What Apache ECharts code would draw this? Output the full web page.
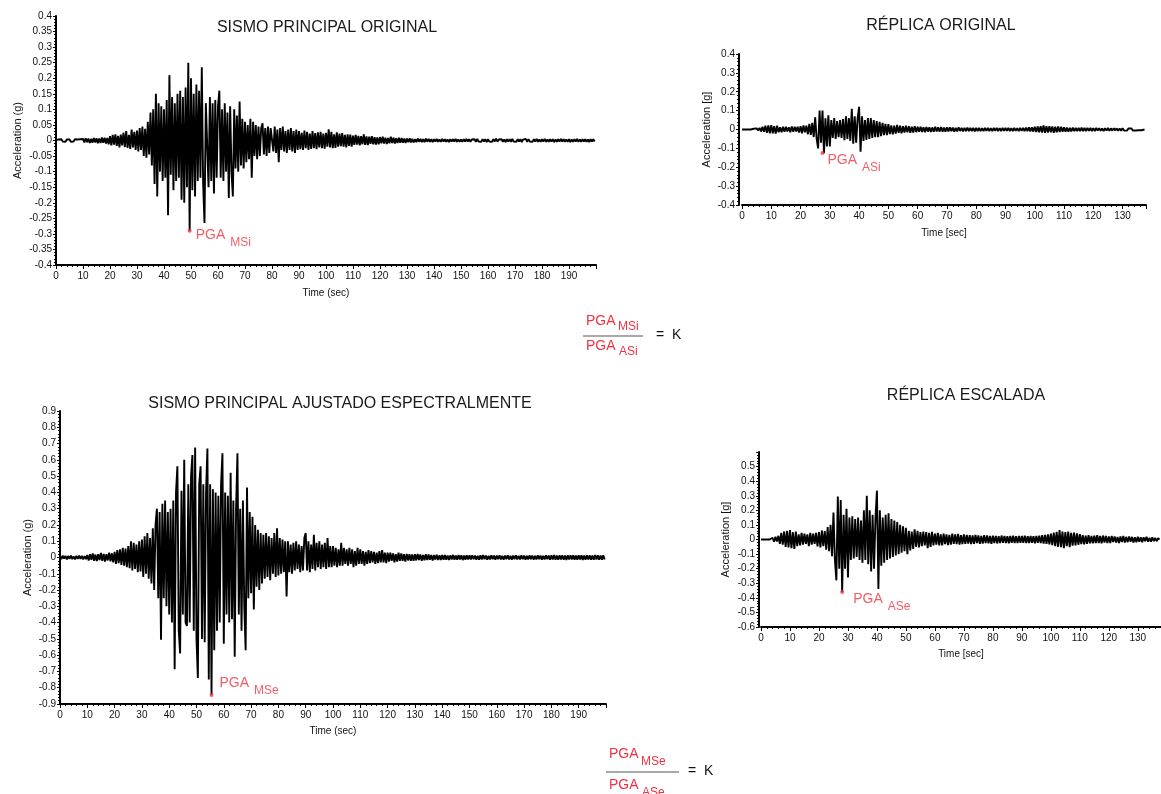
<!DOCTYPE html>
<html>
<head>
<meta charset="UTF-8">
<script src="https://cdn.jsdelivr.net/npm/echarts@6/dist/echarts.min.js"></script>
<style>
html,body{margin:0;padding:0;background:#fff;}
#main{width:1161px;height:794px;}
</style>
</head>
<body>
<div id="main"></div>
<script>
// sample step of the hand-read records (seconds)
var dt = 0.5;

// Sismo principal original, t = 0 .. 199.5 s, one row = 10 s
var mainOriginal = [
 0.002,-0.003,0.003,-0.002,0.004,-0.003,0.002,-0.004,0.003,-0.002,0.003,-0.004,0.002,-0.003,0.004,-0.002,0.003,-0.003,0.004,-0.002,
 0.005,-0.006,0.007,-0.005,0.006,-0.008,0.005,-0.007,0.008,-0.006,0.007,-0.009,0.006,-0.008,0.01,-0.007,0.009,-0.01,0.008,-0.012,
 0.014,-0.016,0.018,-0.013,0.02,-0.017,0.015,-0.022,0.019,-0.016,0.025,-0.021,0.03,-0.024,0.018,-0.027,0.035,-0.022,0.028,-0.03,
 0.032,-0.035,0.04,-0.03,0.045,-0.05,0.038,-0.055,0.06,-0.045,0.09,-0.08,0.1,-0.14,0.15,-0.18,0.12,-0.1,0.11,-0.13,
 0.1,-0.12,0.13,-0.24,0.21,-0.11,0.14,-0.16,0.12,-0.13,0.15,-0.12,0.16,-0.19,0.14,-0.2,0.17,-0.15,0.25,-0.29,
 0.2,-0.16,0.15,-0.18,0.18,-0.13,0.16,-0.12,0.235,-0.14,-0.265,0.12,0.12,-0.15,0.14,-0.13,0.12,-0.17,0.13,-0.12,
 0.11,0.16,-0.12,0.1,-0.13,0.12,-0.1,0.09,-0.185,0.11,-0.1,-0.18,0.1,-0.09,0.08,-0.1,0.125,-0.08,0.07,-0.09,
 0.06,-0.07,0.05,-0.06,0.07,-0.12,0.06,-0.05,0.05,-0.06,0.045,-0.05,0.04,0.055,-0.045,0.04,-0.05,0.045,-0.04,0.04,
 0.04,-0.035,0.045,-0.04,0.035,-0.07,0.04,-0.03,0.045,-0.035,0.03,-0.04,0.035,-0.03,0.04,-0.035,0.03,-0.04,0.035,-0.03,
 0.03,-0.028,0.025,-0.03,0.032,-0.025,0.028,-0.03,0.022,-0.027,0.03,-0.025,0.024,-0.028,0.026,-0.022,0.028,-0.025,0.022,-0.026,
 0.025,-0.02,0.036,-0.022,0.028,-0.025,0.02,-0.024,0.026,-0.02,0.022,-0.018,0.024,-0.02,0.018,-0.022,0.02,-0.017,0.019,-0.02,
 0.016,-0.014,0.018,-0.013,0.015,-0.016,0.014,-0.012,0.02,-0.014,0.013,-0.015,0.012,-0.011,0.014,-0.012,0.011,-0.013,0.01,-0.012,
 0.011,-0.009,0.012,-0.01,0.009,-0.011,0.008,-0.009,0.012,-0.008,0.009,-0.01,0.007,-0.008,0.009,-0.007,0.008,-0.007,0.006,-0.008,
 0.006,-0.005,0.007,-0.006,0.005,-0.006,0.004,-0.005,0.006,-0.004,0.005,-0.005,0.004,-0.005,0.006,-0.004,0.005,-0.004,0.004,-0.005,
 0.004,-0.003,0.005,-0.004,0.003,-0.004,0.005,-0.003,0.004,-0.004,0.003,-0.005,0.004,-0.003,0.004,-0.003,0.005,-0.004,0.003,-0.004,
 0.003,-0.004,0.004,-0.003,0.005,-0.003,0.004,-0.004,0.003,-0.003,0.004,-0.004,0.005,-0.003,0.003,-0.004,0.004,-0.003,0.004,-0.005,
 0.004,-0.003,0.003,-0.004,0.004,-0.003,0.006,-0.004,0.003,-0.003,0.004,-0.004,0.003,-0.005,0.004,-0.003,0.004,-0.004,0.005,-0.003,
 0.003,-0.004,0.004,-0.003,0.004,-0.005,0.003,-0.003,0.005,-0.004,0.004,-0.003,0.003,-0.004,0.004,-0.003,0.005,-0.004,0.003,-0.004,
 0.004,-0.003,0.005,-0.004,0.003,-0.004,0.004,-0.003,0.004,-0.005,0.003,-0.004,0.004,-0.003,0.005,-0.003,0.004,-0.004,0.003,-0.004,
 0.004,-0.005,0.003,-0.004,0.004,-0.003,0.005,-0.004,0.003,-0.004,0.004,-0.003,0.004,-0.004,0.003,-0.005,0.004,-0.003,0.004,-0.003
];

// Réplica original, t = 0 .. 137.5 s
var replicaOriginal = [
 0,0,0,0,0,0,0,0,0.004,-0.005,0.006,-0.005,0.008,-0.01,0.015,-0.012,0.02,-0.018,0.022,-0.02,
 0.023,-0.02,0.018,-0.022,0.02,-0.015,0.012,-0.014,0.015,-0.012,0.014,-0.01,0.012,-0.015,0.016,-0.012,0.014,-0.01,0.015,-0.016,
 0.018,-0.02,0.022,-0.015,0.02,-0.025,0.03,-0.028,0.035,-0.04,0.065,-0.05,-0.1,0.1,-0.07,0.1,-0.125,0.06,-0.09,0.075,
 -0.09,0.05,-0.045,0.06,-0.05,0.045,-0.04,0.05,-0.045,0.055,-0.056,0.07,-0.05,0.06,-0.06,0.11,-0.075,0.07,-0.07,0.06,
 0.12,-0.118,0.07,-0.06,0.05,-0.055,0.06,-0.05,0.06,-0.045,0.05,-0.04,0.045,-0.04,0.04,-0.035,0.035,-0.03,0.03,-0.03,
 0.028,-0.025,0.022,-0.026,0.02,-0.022,0.024,-0.018,0.02,-0.02,0.018,-0.016,0.02,-0.015,0.017,-0.018,0.015,-0.016,0.018,-0.014,
 0.014,-0.012,0.015,-0.013,0.012,-0.014,0.013,-0.011,0.012,-0.013,0.011,-0.012,0.014,-0.01,0.012,-0.011,0.013,-0.012,0.01,-0.011,
 0.012,-0.01,0.011,-0.009,0.01,-0.011,0.009,-0.01,0.011,-0.008,0.009,-0.01,0.008,-0.009,0.01,-0.008,0.009,-0.009,0.008,-0.01,
 0.009,-0.008,0.008,-0.009,0.007,-0.008,0.009,-0.007,0.008,-0.008,0.007,-0.009,0.008,-0.007,0.009,-0.008,0.007,-0.008,0.008,-0.007,
 0.008,-0.007,0.009,-0.008,0.007,-0.008,0.008,-0.007,0.007,-0.009,0.008,-0.007,0.009,-0.008,0.01,-0.009,0.011,-0.01,0.012,-0.011,
 0.014,-0.013,0.016,-0.015,0.018,-0.016,0.022,-0.017,0.018,-0.016,0.017,-0.015,0.016,-0.017,0.015,-0.014,0.016,-0.013,0.014,-0.012,
 0.012,-0.011,0.01,-0.011,0.009,-0.01,0.01,-0.009,0.008,-0.009,0.009,-0.008,0.01,-0.008,0.008,-0.009,0.009,-0.007,0.008,-0.008,
 0.007,-0.008,0.008,-0.006,0.007,-0.007,0.006,-0.008,0.007,-0.006,0.008,-0.007,0.006,-0.006,0.007,-0.005,0.006,-0.007,0.005,-0.006,
 0.006,-0.005,0.005,-0.006,0.005,-0.004,0.006,-0.005,0.004,-0.005,0.005,-0.004,0.004,-0.004,0.003,0
];

// Sismo principal ajustado espectralmente, t = 0 .. 199.5 s
var mainAdjusted = [
 0.008,-0.01,0.012,-0.007,0.01,-0.012,0.009,-0.008,0.011,-0.01,0.007,-0.012,0.01,-0.008,0.012,-0.009,0.01,-0.011,0.008,-0.01,
 0.015,-0.018,0.02,-0.014,0.025,-0.02,0.018,-0.022,0.02,-0.016,0.028,-0.02,0.022,-0.025,0.02,-0.018,0.03,-0.024,0.026,-0.03,
 0.035,-0.04,0.045,-0.035,0.05,-0.045,0.06,-0.05,0.055,-0.06,0.07,-0.065,0.1,-0.08,0.09,-0.07,0.08,-0.09,0.1,-0.085,
 0.11,-0.12,0.13,-0.1,0.15,-0.13,0.12,-0.16,0.18,-0.2,0.2,0.3,-0.25,0.28,-0.505,0.33,-0.25,0.35,-0.3,0.28,
 -0.35,0.3,-0.4,0.35,-0.686,0.4,0.56,-0.45,-0.59,0.41,-0.35,0.6,-0.4,-0.42,0.45,-0.4,0.5,0.63,-0.45,0.675,
 -0.5,-0.74,0.45,0.56,-0.5,0.45,-0.52,0.4,0.67,-0.75,0.45,-0.845,0.42,-0.57,0.4,-0.45,0.38,-0.4,0.45,0.64,
 -0.53,0.4,-0.35,0.38,-0.4,0.52,-0.38,0.35,-0.61,0.3,0.64,-0.35,0.3,-0.45,0.35,-0.3,-0.57,0.43,-0.25,0.28,
 -0.22,0.25,-0.32,0.2,-0.18,0.17,-0.2,0.15,-0.16,0.14,-0.13,0.15,-0.12,0.13,-0.14,0.12,-0.1,0.15,-0.12,0.18,
 -0.11,0.12,-0.1,0.11,-0.09,0.1,-0.24,0.1,-0.09,0.08,-0.1,0.09,-0.08,0.1,-0.07,0.08,-0.09,0.07,-0.08,0.12,
 0.15,-0.08,0.1,-0.09,0.08,-0.07,0.14,-0.08,0.09,-0.06,0.1,-0.07,0.08,-0.06,0.09,-0.07,0.12,-0.06,0.07,-0.06,
 0.07,-0.05,0.06,-0.06,0.05,-0.05,0.09,-0.05,0.06,-0.04,0.05,-0.05,0.06,-0.04,0.05,-0.06,0.04,-0.05,0.06,-0.04,
 0.05,-0.04,0.04,-0.05,0.035,-0.04,0.045,-0.035,0.04,-0.03,0.035,-0.04,0.03,-0.035,0.04,-0.03,0.045,-0.03,0.03,-0.035,
 0.03,-0.025,0.03,-0.02,0.025,-0.03,0.02,-0.025,0.03,-0.02,0.025,-0.02,0.02,-0.025,0.022,-0.018,0.02,-0.02,0.018,-0.02,
 0.02,-0.018,0.022,-0.015,0.018,-0.02,0.015,-0.017,0.02,-0.016,0.018,-0.014,0.016,-0.018,0.015,-0.013,0.017,-0.015,0.014,-0.016,
 0.015,-0.013,0.016,-0.014,0.012,-0.015,0.014,-0.012,0.016,-0.013,0.012,-0.014,0.015,-0.012,0.013,-0.016,0.012,-0.013,0.014,-0.012,
 0.013,-0.012,0.014,-0.011,0.012,-0.013,0.011,-0.014,0.013,-0.012,0.015,-0.011,0.012,-0.013,0.011,-0.012,0.013,-0.011,0.012,-0.013,
 0.012,-0.011,0.013,-0.012,0.011,-0.013,0.012,-0.01,0.014,-0.012,0.011,-0.013,0.012,-0.011,0.013,-0.012,0.011,-0.012,0.013,-0.011,
 0.012,-0.013,0.011,-0.012,0.014,-0.011,0.012,-0.013,0.011,-0.012,0.013,-0.011,0.012,-0.014,0.011,-0.012,0.013,-0.011,0.012,-0.013,
 0.013,-0.012,0.015,-0.013,0.012,-0.014,0.013,-0.012,0.014,-0.013,0.012,-0.015,0.013,-0.012,0.014,-0.012,0.013,-0.014,0.012,-0.013,
 0.014,-0.012,0.013,-0.015,0.012,-0.013,0.014,-0.012,0.013,-0.014,0.012,-0.013,0.015,-0.012,0.013,-0.014,0.012,-0.013,0.014,-0.012
];

// Réplica escalada, t = 0 .. 137.5 s
var replicaScaled = [
 0,0,0,0,0,0,0,0,0.012,-0.015,0.018,-0.014,0.025,-0.03,0.045,-0.035,0.055,-0.05,0.06,-0.055,
 0.065,-0.06,0.05,-0.065,0.055,-0.045,0.035,-0.04,0.045,-0.035,0.04,-0.03,0.035,-0.045,0.045,-0.035,0.04,-0.03,0.045,-0.048,
 0.05,-0.055,0.062,-0.045,0.058,-0.07,0.085,-0.08,0.1,-0.115,0.185,-0.14,-0.28,0.295,-0.2,0.27,-0.36,0.17,-0.2,0.21,
 -0.26,0.15,-0.14,0.16,-0.13,0.14,-0.12,0.15,-0.14,0.13,-0.16,0.2,-0.14,0.3,-0.17,0.2,-0.22,0.17,-0.2,0.15,
 0.335,-0.34,0.2,-0.18,0.15,-0.16,0.17,-0.14,0.18,-0.13,0.14,-0.12,0.13,-0.11,0.12,-0.1,0.1,-0.09,0.09,-0.08,
 0.08,-0.1,0.06,-0.075,0.055,-0.065,0.07,-0.05,0.06,-0.055,0.05,-0.045,0.055,-0.04,0.05,-0.06,0.045,-0.05,0.052,-0.04,
 0.04,-0.035,0.045,-0.04,0.035,-0.04,0.04,-0.032,0.035,-0.038,0.032,-0.035,0.04,-0.03,0.035,-0.032,0.038,-0.035,0.03,-0.032,
 0.035,-0.03,0.032,-0.028,0.03,-0.032,0.028,-0.03,0.032,-0.025,0.028,-0.03,0.025,-0.028,0.03,-0.025,0.028,-0.027,0.025,-0.03,
 0.027,-0.024,0.025,-0.027,0.022,-0.025,0.027,-0.022,0.024,-0.025,0.022,-0.026,0.024,-0.022,0.026,-0.024,0.022,-0.024,0.025,-0.022,
 0.024,-0.022,0.026,-0.024,0.022,-0.024,0.025,-0.022,0.022,-0.026,0.024,-0.022,0.026,-0.025,0.03,-0.028,0.032,-0.03,0.035,-0.033,
 0.04,-0.038,0.048,-0.045,0.052,-0.05,0.065,-0.052,0.055,-0.06,0.05,-0.045,0.055,-0.052,0.045,-0.042,0.048,-0.04,0.042,-0.036,
 0.036,-0.032,0.03,-0.033,0.027,-0.03,0.03,-0.027,0.024,-0.027,0.027,-0.024,0.03,-0.024,0.024,-0.027,0.027,-0.021,0.024,-0.024,
 0.021,-0.024,0.024,-0.018,0.021,-0.021,0.018,-0.024,0.021,-0.018,0.024,-0.021,0.018,-0.018,0.021,-0.015,0.018,-0.021,0.015,-0.018,
 0.018,-0.015,0.015,-0.018,0.015,-0.012,0.018,-0.015,0.012,-0.015,0.015,-0.012,0.012,-0.012,0.009,0
];

// PGA points (one per panel: MSi, ASi, MSe, ASe)
var pgaTimes = [49.5, 27.5, 55.5, 28];
var pgaValues = [-0.29, -0.125, -0.845, -0.36];
var pgaSubs = ['MSi', 'ASi', 'MSe', 'ASe'];

var titles = ['SISMO PRINCIPAL ORIGINAL', 'RÉPLICA ORIGINAL', 'SISMO PRINCIPAL AJUSTADO ESPECTRALMENTE', 'RÉPLICA ESCALADA'];
var yNames = ['Acceleration (g)', 'Acceleration [g]', 'Acceleration (g)', 'Acceleration [g]'];
var xNames = ['Time (sec)', 'Time [sec]', 'Time (sec)', 'Time [sec]'];

var RED = '#ef3340';
var FONT = '"Liberation Sans", Arial, sans-serif';

function toPairs(vals) {
  return vals.map(function (v, i) { return [i * dt, v]; });
}

var records = [mainOriginal, replicaOriginal, mainAdjusted, replicaScaled];

var grids = [
  {left: 56, top: 16, width: 540, height: 249},
  {left: 742, top: 54, width: 404, height: 151},
  {left: 60, top: 411, width: 546, height: 293},
  {left: 761, top: 452, width: 401, height: 175}
];
var xRange = [[0, 200], [0, 138], [0, 200], [0, 138]];
var yRange = [[-0.4, 0.4, 0.05], [-0.4, 0.4, 0.1], [-0.9, 0.9, 0.1], [-0.6, 0.6, 0.1]];
var yOffset = [0, 3, 0, 2];
var yNameGap = [33, 27, 27, 28];
var xNameGap = [23, 23, 22, 22];
var labelOffsets = [[-1, 4], [-2, 7], [1, -12], [4, 7]];

var axisLineStyle = {color: '#000', width: 2};
var tickStyle = {color: '#000', width: 1};

var option = {
  animation: false,
  backgroundColor: '#fff',
  textStyle: {fontFamily: FONT},
  title: [
    {text: titles[0], left: 322, top: 15, textAlign: 'center'},
    {text: titles[1], left: 936, top: 13, textAlign: 'center'},
    {text: titles[2], left: 335, top: 391, textAlign: 'center'},
    {text: titles[3], left: 961, top: 383, textAlign: 'center'}
  ].map(function (t) {
    t.textStyle = {fontFamily: FONT, fontSize: 16, fontWeight: 'normal', color: '#1a1a1a'};
    return t;
  }),
  grid: grids,
  xAxis: grids.map(function (g, i) {
    return {
      type: 'value', gridIndex: i, min: xRange[i][0], max: xRange[i][1], interval: 10,
      name: xNames[i], nameLocation: 'middle', nameGap: xNameGap[i],
      nameTextStyle: {fontFamily: FONT, fontSize: 10, color: '#111'},
      axisLine: {onZero: false, lineStyle: axisLineStyle},
      axisTick: {length: 4, lineStyle: tickStyle},
      minorTick: {show: true, splitNumber: 5, length: 2, lineStyle: tickStyle},
      axisLabel: {fontFamily: FONT, fontSize: 10, color: '#111', margin: 6, showMaxLabel: false},
      splitLine: {show: false}
    };
  }),
  yAxis: grids.map(function (g, i) {
    return {
      type: 'value', gridIndex: i, min: yRange[i][0], max: yRange[i][1], interval: yRange[i][2],
      offset: yOffset[i],
      name: yNames[i], nameLocation: 'middle', nameGap: yNameGap[i],
      nameTextStyle: {fontFamily: FONT, fontSize: 11, color: '#111'},
      axisLine: {onZero: false, lineStyle: axisLineStyle},
      axisTick: {length: 3, lineStyle: tickStyle},
      minorTick: {show: true, splitNumber: 5, length: 2, lineStyle: tickStyle},
      axisLabel: {fontFamily: FONT, fontSize: 10, color: '#111', margin: 4, showMaxLabel: i !== 3},
      splitLine: {show: false}
    };
  }),
  series: [],
  graphic: []
};

records.forEach(function (rec, i) {
  option.series.push({
    type: 'line', xAxisIndex: i, yAxisIndex: i, data: toPairs(rec),
    showSymbol: false, symbol: 'none', lineStyle: {color: '#000', width: 1.9}, z: 2
  });
  option.series.push({
    type: 'scatter', xAxisIndex: i, yAxisIndex: i,
    data: [[pgaTimes[i], pgaValues[i]]],
    symbolSize: 4, itemStyle: {color: RED}, z: 5,
    label: {
      show: true, position: 'right', offset: labelOffsets[i],
      formatter: '{a|PGA}{b|' + pgaSubs[i] + '}',
      rich: {
        a: {fontFamily: FONT, fontSize: 14, color: RED},
        b: {fontFamily: FONT, fontSize: 12, color: RED, padding: [16, 0, 0, 5]}
      }
    }
  });
});

// ratio annotations PGA_M / PGA_A = K
function fraction(x, y, subTop, subBottom, lineW, eqX, ys) {
  var st = {fontFamily: FONT, fontSize: 14, fill: RED};
  var ss = {fontFamily: FONT, fontSize: 12, fill: RED};
  return [
    {type: 'text', left: x + 3, top: y + ys[0], style: Object.assign({text: 'PGA'}, st)},
    {type: 'text', left: x + 35, top: y + ys[0] + ys[1], style: Object.assign({text: subTop}, ss)},
    {type: 'line', shape: {x1: x, y1: y, x2: x + lineW, y2: y}, style: {stroke: '#555', lineWidth: 1.2}},
    {type: 'text', left: x + 3, top: y + ys[2], style: Object.assign({text: 'PGA'}, st)},
    {type: 'text', left: x + 36, top: y + ys[2] + ys[1], style: Object.assign({text: subBottom}, ss)},
    {type: 'text', left: eqX, top: y - 8, style: {text: '=  K', fontFamily: FONT, fontSize: 14, fill: '#111'}}
  ];
}
option.graphic = fraction(583, 336, 'MSi', 'ASi', 60, 656, [-22, 7, 3])
  .concat(fraction(606, 772, 'MSe', 'ASe', 73, 688, [-25, 9, 6]));

var chart = echarts.init(document.getElementById('main'), null, {renderer: 'canvas'});
chart.setOption(option);
</script>
</body>
</html>
